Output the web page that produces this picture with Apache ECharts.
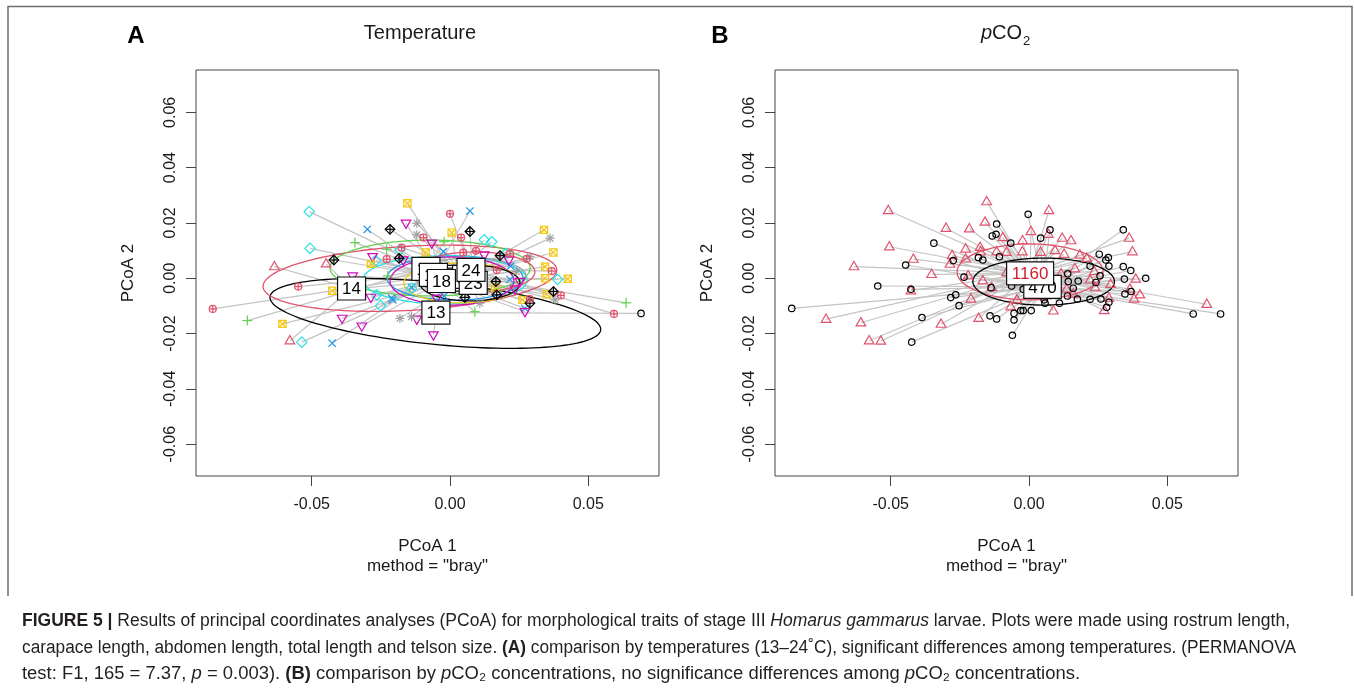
<!DOCTYPE html>
<html><head><meta charset="utf-8">
<script src="https://cdn.jsdelivr.net/npm/echarts@6/dist/echarts.min.js"></script>
<style>html,body{margin:0;padding:0;background:#fff}#c{width:1354px;height:689px}</style>
</head><body><div id="c"></div>
<script>
// ---------------- DATA ----------------
const xTicks = [-0.05, 0, 0.05];
const yTicks = [-0.06, -0.04, -0.02, 0, 0.02, 0.04, 0.06];

// Panel A: temperature groups
const tempGroups = ['13','14','15','16','17','18','19','20','23','24'];
const t13 = [[0.0691,-0.0127]];
const t14 = [[-0.0635,0.0042],[-0.0448,0.0052],[-0.0579,-0.0226]];
const t15 = [[-0.0344,0.0129],[-0.0229,0.0105],[-0.0733,-0.0153],[-0.0225,0.0008],[-0.0021,0.0132],[0.0090,-0.0121],[0.0637,-0.0089]];
const t16 = [[-0.0299,0.0177],[-0.0426,-0.0235],[-0.0207,-0.0078],[0.0072,0.0243],[-0.0024,0.0096],[0.0219,0.0044],[0.0217,-0.0004],[-0.0139,-0.0033],[-0.0021,-0.0064],[0.0271,-0.0109],[-0.0211,-0.0072]];
const t17 = [[-0.0509,0.0241],[-0.0506,0.0108],[-0.0536,-0.0231],[-0.0251,-0.0099],[-0.0265,-0.0060],[-0.0181,0.0102],[-0.0268,0.0064],[-0.0139,-0.0036],[0.0124,0.0139],[0.0151,0.0132],[0.0203,0.0090],[0.0389,-0.0004]];
const t18 = [[-0.0159,0.0199],[-0.0280,0.0078],[-0.0352,0.0008],[-0.0286,-0.0069],[-0.0390,-0.0145],[-0.0319,-0.0173],[-0.0169,0.0066],[-0.0066,0.0127],[-0.0060,-0.0205],[-0.0120,-0.0148],[0.0124,0.0084],[0.0213,0.0066],[0.0235,-0.0039],[0.0271,-0.0121],[-0.0048,-0.0072],[0.0253,-0.0012]];
const t19 = [[-0.0154,0.0271],[-0.0286,0.0052],[-0.0426,-0.0045],[-0.0606,-0.0165],[0.0006,0.0165],[0.0340,0.0175],[0.0374,0.0093],[0.0344,0.0042],[0.0344,0.0000],[0.0426,-0.0002],[0.0350,-0.0058],[0.0262,-0.0078],[-0.0088,0.0093],[0.0163,-0.0034]];
const t20 = [[-0.0120,0.0199],[-0.0181,-0.0145],[-0.0139,-0.0139],[-0.0120,0.0157],[0.0362,0.0145],[0.0289,0.0078],[0.0108,-0.0090],[0.0380,-0.0078],[0.0241,0.0024]];
const t23 = [[-0.0217,0.0177],[-0.0420,0.0066],[-0.0184,0.0072],[0.0072,0.0169],[0.0181,0.0082],[0.0166,-0.0012],[0.0169,-0.0060],[0.0054,-0.0069],[0.0374,-0.0048],[0.0289,-0.0090]];
const t24 = [[-0.0858,-0.0111],[-0.0549,-0.0030],[-0.0229,0.0069],[0.0000,0.0233],[-0.0096,0.0147],[0.0040,0.0147],[0.0048,0.0093],[0.0094,0.0099],[0.0169,0.0030],[0.0217,0.0088],[0.0277,0.0070],[0.0368,0.0026],[0.0401,-0.0062],[0.0593,-0.0129],[0.0289,-0.0075],[-0.0175,0.0111]];
// group centroids (label positions)
const tempCentX = [-0.0051,-0.0356,-0.0087,-0.0060,-0.0010,-0.0031,0.0030,0.0060,0.0084,0.0076];
const tempCentY = [-0.0124,-0.0037,0.0034,0.0012,0.0005,-0.0010,-0.0005,0.0005,-0.0017,0.0030];
// dispersion ellipses: centre, semi-axes, tilt (deg)
const tempEllCX = [-0.0053,-0.0145,-0.0072,0.0018,-0.0018,0.0007,0.0043,0.0072,0.0072,0.0090];
const tempEllCY = [-0.0127,0.0000,0.0037,0.0001,-0.0006,-0.0010,-0.0017,0.0008,-0.0017,0.0023];
const tempEllA  = [0.0601,0.0532,0.0362,0.0246,0.0297,0.0224,0.0210,0.0203,0.0181,0.0217];
const tempEllB  = [0.0112,0.0116,0.0101,0.0080,0.0087,0.0087,0.0072,0.0065,0.0065,0.0072];
const tempEllAng= [-5.7,3.3,0,0,0,0,0,0,0,0];
const tempLabelOrder = [4,6,7,2,3,5,8,9,0,1];

// Panel B: pCO2 groups
const co2Groups = ['1160','470'];
const c1160 = [[-0.0509,0.0245],[-0.0153,0.0277],[-0.0300,0.0181],[-0.0216,0.0179],[-0.0159,0.0203],[-0.0505,0.0114],[-0.0418,0.0069],[-0.0633,0.0042],[-0.0352,0.0014],[-0.0278,0.0082],[-0.0286,0.0051],[-0.0229,0.0106],[-0.0229,0.0070],[-0.0177,0.0112],[-0.0175,0.0096],[-0.0220,0.0009],[-0.0167,-0.0009],[-0.0135,-0.0034],[-0.0427,-0.0045],[-0.0210,-0.0075],[-0.0734,-0.0148],[-0.0608,-0.0161],[-0.0578,-0.0226],[-0.0536,-0.0227],[-0.0318,-0.0166],[-0.0182,-0.0145],
  [0.0072,0.0245],[0.0007,0.0169],[0.0070,0.0159],[0.0120,0.0145],[0.0152,0.0136],[-0.0095,0.0147],[-0.0023,0.0136],[-0.0117,0.0096],[-0.0081,0.0094],[-0.0024,0.0096],[0.0042,0.0094],[0.0094,0.0100],[0.0127,0.0087],[0.0184,0.0084],[0.0209,0.0072],[0.0362,0.0145],[0.0374,0.0096],[0.0166,0.0034],[0.0236,0.0024],[0.0221,-0.0006],[0.0136,-0.0039],[0.0160,-0.0057],[0.0239,-0.0034],[0.0295,-0.0022],[0.0386,-0.0003],[0.0365,-0.0039],[0.0401,-0.0060],[0.0380,-0.0075],[0.0289,-0.0072],[0.0643,-0.0094],[0.0088,-0.0118],[0.0272,-0.0117],[-0.0066,-0.0103],[-0.0044,-0.0078],[-0.0081,0.0020],[0.0116,0.0016]];
const c470 = [[-0.0117,0.0196],[-0.0133,0.0153],[-0.0119,0.0159],[-0.0344,0.0127],[-0.0446,0.0048],[-0.0274,0.0064],[-0.0183,0.0075],[-0.0167,0.0066],[-0.0107,0.0078],[-0.0235,0.0004],[-0.0547,-0.0028],[-0.0427,-0.0040],[-0.0283,-0.0070],[-0.0265,-0.0060],[-0.0253,-0.0099],[-0.0858,-0.0109],[-0.0387,-0.0142],[-0.0424,-0.0231],[-0.0141,-0.0136],[-0.0117,-0.0147],[-0.0137,-0.0034],
  [-0.0003,0.0231],[-0.0066,0.0127],[0.0042,0.0145],[0.0076,0.0175],[0.0341,0.0175],[0.0254,0.0087],[0.0278,0.0066],[0.0287,0.0075],[0.0221,0.0044],[0.0289,0.0044],[0.0341,0.0042],[0.0368,0.0028],[0.0140,0.0016],[0.0178,-0.0010],[0.0142,-0.0012],[0.0257,0.0009],[0.0242,-0.0015],[0.0345,-0.0003],[0.0422,0.0000],[0.0160,-0.0036],[0.0139,-0.0064],[0.0175,-0.0075],[0.0221,-0.0076],[0.0260,-0.0075],[0.0289,-0.0087],[0.0281,-0.0105],[0.0347,-0.0057],[0.0369,-0.0048],[0.0110,-0.0090],[0.0058,-0.0090],[0.0055,-0.0078],[-0.0030,-0.0117],[-0.0021,-0.0117],[0.0008,-0.0117],[-0.0054,-0.0127],[-0.0054,-0.0151],[-0.0060,-0.0206],[0.0594,-0.0129],[0.0693,-0.0129],[-0.0063,-0.0028],[-0.0021,-0.0040]];
const co2CentX = [0.0004, 0.0049];
const co2CentY = [0.0018, -0.0031];
const co2EllCX = [0.0004, 0.0053];
const co2EllCY = [0.0023, -0.0012];
const co2EllA  = [0.0264, 0.0256];
const co2EllB  = [0.0101, 0.0085];
const co2EllAng= [0, 0];
const co2LabelOrder = [1, 0];

// ---------------- STYLE ----------------
const FONT = "'Liberation Sans', Arial, Helvetica, sans-serif";
const X_MIN = -0.09186, X_MAX = 0.07559, Y_MIN = -0.0715, Y_MAX = 0.0753;
const tempMarks = ['circle','triUp','plus','cross','diamond','triDown','sqX','star','diaPlus','circPlus'];
const tempCols = ['#000000','#DF536B','#61D04F','#2297E6','#28E2E5','#CD0BBC','#F5C710','#9E9E9E','#000000','#DF536B'];
const co2Marks = ['triUp','circle'];
const co2Cols = ['#DF536B','#000000'];
const co2TextCols = ['#CC1F2F','#000000'];
const SPIDER = '#C4C4C4';

function marker(type, x, y, color) {
  const st = {stroke: color, fill: 'none', lineWidth: 1.2};
  const L = (x1,y1,x2,y2) => ({type:'line', shape:{x1,y1,x2,y2}, style: st});
  const P = pts => ({type:'polygon', shape:{points:pts}, style: st});
  switch (type) {
    case 'circle': return [{type:'circle', shape:{cx:x, cy:y, r:3.2}, style: st}];
    case 'triUp': return [P([[x,y-5.2],[x+4.8,y+3.1],[x-4.8,y+3.1]])];
    case 'triDown': return [P([[x,y+5.2],[x+4.8,y-3.1],[x-4.8,y-3.1]])];
    case 'plus': return [L(x-5,y,x+5,y), L(x,y-5,x,y+5)];
    case 'cross': return [L(x-3.7,y-3.7,x+3.7,y+3.7), L(x-3.7,y+3.7,x+3.7,y-3.7)];
    case 'diamond': return [P([[x,y-5.2],[x+5.2,y],[x,y+5.2],[x-5.2,y]])];
    case 'sqX': return [{type:'rect', shape:{x:x-3.6,y:y-3.6,width:7.2,height:7.2}, style: st}, L(x-3.6,y-3.6,x+3.6,y+3.6), L(x-3.6,y+3.6,x+3.6,y-3.6)];
    case 'star': return [L(x-4.6,y,x+4.6,y), L(x,y-4.6,x,y+4.6), L(x-3.3,y-3.3,x+3.3,y+3.3), L(x-3.3,y+3.3,x+3.3,y-3.3)];
    case 'diaPlus': return [P([[x,y-4.8],[x+4.8,y],[x,y+4.8],[x-4.8,y]]), L(x-4.8,y,x+4.8,y), L(x,y-4.8,x,y+4.8)];
    case 'circPlus': return [{type:'circle', shape:{cx:x, cy:y, r:3.5}, style: st}, L(x-3.5,y,x+3.5,y), L(x,y-3.5,x,y+3.5)];
  }
  return [];
}

const fmt = v => (Math.abs(v) < 1e-9 ? 0 : v).toFixed(2);
function xAx(gi) {
  return {type:'value', gridIndex:gi, min:X_MIN, max:X_MAX, position:'bottom', splitLine:{show:false},
    axisLine:{show:false, onZero:false},
    axisTick:{show:true, inside:false, length:10, customValues:xTicks, lineStyle:{color:'#444', width:1}},
    axisLabel:{show:true, customValues:xTicks, formatter:fmt, margin:21, color:'#1a1a1a', fontSize:16, fontFamily:FONT}};
}
function yAx(gi) {
  return {type:'value', gridIndex:gi, min:Y_MIN, max:Y_MAX, position:'left', splitLine:{show:false},
    axisLine:{show:false, onZero:false},
    axisTick:{show:true, inside:false, length:10, customValues:yTicks, lineStyle:{color:'#444', width:1}},
    axisLabel:{show:true, customValues:yTicks, formatter:fmt, rotate:90, margin:17, color:'#1a1a1a', fontSize:16, fontFamily:FONT}};
}

function buildPanel(gi, sets, centX, centY, ellCX, ellCY, ellA, ellB, ellAng, marks, cols, names, labelOrder, textCols) {
  const out = [];
  const spider = [];
  sets.forEach((pts, g) => pts.forEach(p => spider.push([p[0], p[1], centX[g], centY[g]])));
  out.push({type:'custom', xAxisIndex:gi, yAxisIndex:gi, silent:true, z:1, data:spider,
    encode:{x:[0,2], y:[1,3]},
    renderItem:(params, api) => {
      const a = api.coord([api.value(0), api.value(1)]);
      const b = api.coord([api.value(2), api.value(3)]);
      return {type:'line', shape:{x1:a[0], y1:a[1], x2:b[0], y2:b[1]}, style:{stroke:SPIDER, lineWidth:1.2}};
    }});
  const ell = ellCX.map((cx, g) => [cx, ellCY[g], ellA[g], ellB[g], ellAng[g], g]);
  out.push({type:'custom', xAxisIndex:gi, yAxisIndex:gi, silent:true, z:2, data:ell,
    encode:{x:0, y:1},
    renderItem:(params, api) => {
      const c = api.coord([api.value(0), api.value(1)]);
      const sz = api.size([api.value(2), api.value(3)]);
      const th = api.value(4) * Math.PI / 180;
      const pts = [];
      for (let k = 0; k <= 144; k++) {
        const t = k / 144 * 2 * Math.PI;
        const ex = sz[0] * Math.cos(t), ey = sz[1] * Math.sin(t);
        pts.push([c[0] + ex * Math.cos(th) - ey * Math.sin(th), c[1] - (ex * Math.sin(th) + ey * Math.cos(th))]);
      }
      return {type:'polyline', shape:{points:pts}, style:{stroke:cols[api.value(5)], fill:'none', lineWidth:1.3}};
    }});
  sets.forEach((pts, g) => {
    out.push({type:'custom', xAxisIndex:gi, yAxisIndex:gi, silent:true, z:3, data:pts,
      encode:{x:0, y:1},
      renderItem:(params, api) => {
        const p = api.coord([api.value(0), api.value(1)]);
        return {type:'group', children: marker(marks[g], p[0], p[1], cols[g])};
      }});
  });
  const lab = labelOrder.map(g => [centX[g], centY[g], g]);
  out.push({type:'custom', xAxisIndex:gi, yAxisIndex:gi, silent:true, z:4, data:lab,
    encode:{x:0, y:1},
    renderItem:(params, api) => {
      const c = api.coord([api.value(0), api.value(1)]);
      const g = api.value(2);
      const txt = names[g];
      const w = txt.length * 9.5 + 9, h = 23;
      return {type:'group', children:[
        {type:'rect', shape:{x:c[0]-w/2, y:c[1]-h/2, width:w, height:h}, style:{fill:'#fff', stroke:'#111', lineWidth:1.2}},
        {type:'text', x:c[0], y:c[1]+1, style:{text:txt, fill:textCols ? textCols[g] : '#000', fontSize:17, fontFamily:FONT, align:'center', verticalAlign:'middle'}}
      ]};
    }});
  return out;
}

const series = [].concat(
  buildPanel(0, [t13,t14,t15,t16,t17,t18,t19,t20,t23,t24], tempCentX, tempCentY, tempEllCX, tempEllCY, tempEllA, tempEllB, tempEllAng, tempMarks, tempCols, tempGroups, tempLabelOrder, null),
  buildPanel(1, [c1160, c470], co2CentX, co2CentY, co2EllCX, co2EllCY, co2EllA, co2EllB, co2EllAng, co2Marks, co2Cols, co2Groups, co2LabelOrder, co2TextCols)
);

// caption: each line condensed to the width it takes in the figure
const mctx = document.createElement('canvas').getContext('2d');
const CAP = 18;
function richWidth(markup) {
  let w = 0;
  const re = /\{(\w+)\|([^}]*)\}|([^{]+)/g;
  let m;
  while ((m = re.exec(markup)) !== null) {
    let font = `${CAP}px ${FONT}`, s = m[3];
    if (m[1]) { s = m[2]; font = (m[1] === 'b' ? 'bold ' : 'italic ') + font; }
    mctx.font = font;
    w += mctx.measureText(s).width;
  }
  return w;
}
const capRich = {b:{fontWeight:'bold', fontSize:CAP, fontFamily:FONT, fill:'#231f20'}, i:{fontStyle:'italic', fontSize:CAP, fontFamily:FONT, fill:'#231f20'}};
function capLine(text, y, targetW) {
  const sc = targetW / richWidth(text);
  return {type:'text', x:22, y:y, scaleX:sc, scaleY:1, style:{text:text, fontSize:CAP, fontFamily:FONT, fill:'#231f20', verticalAlign:'middle', align:'left', rich:capRich}};
}
function txt(t, x, y, size, extra) {
  return {type:'text', x:x, y:y, style:Object.assign({text:t, fontSize:size, fontFamily:FONT, fill:'#1a1a1a', align:'center', verticalAlign:'middle'}, extra || {})};
}

const graphic = [
  {type:'polyline', shape:{points:[[8,596],[8,6.5],[1352,6.5],[1352,596]]}, style:{stroke:'#6f6f6f', lineWidth:1.5, fill:'none'}},
  txt('A', 136, 36, 24, {fontWeight:'bold', fill:'#000'}),
  txt('Temperature', 420, 33, 20),
  txt('B', 720, 36, 24, {fontWeight:'bold', fill:'#000'}),
  {type:'text', x:1022, y:33, style:{text:'{i|p}CO', fontSize:20, fontFamily:FONT, fill:'#1a1a1a', align:'right', verticalAlign:'middle', rich:{i:{fontStyle:'italic', fontSize:20, fontFamily:FONT, fill:'#1a1a1a'}}}},
  {type:'text', x:1023, y:41, style:{text:'2', fontSize:13, fontFamily:FONT, fill:'#1a1a1a', align:'left', verticalAlign:'middle'}},
  Object.assign(txt('PCoA 2', 128, 273, 17), {rotation:Math.PI/2}),
  Object.assign(txt('PCoA 2', 707, 273, 17), {rotation:Math.PI/2}),
  txt('PCoA 1', 427.5, 546, 17),
  txt('method = "bray"', 427.5, 566, 17),
  txt('PCoA 1', 1006.5, 546, 17),
  txt('method = "bray"', 1006.5, 566, 17),
  capLine('{b|FIGURE 5 |} Results of principal coordinates analyses (PCoA) for morphological traits of stage III {i|Homarus gammarus} larvae. Plots were made using rostrum length,', 621, 1268),
  capLine('carapace length, abdomen length, total length and telson size. {b|(A)} comparison by temperatures (13\u201324\u02DAC), significant differences among temperatures. (PERMANOVA', 648, 1274),
  capLine('test: F1, 165 = 7.37, {i|p} = 0.003). {b|(B)} comparison by {i|p}CO\u2082 concentrations, no significance differences among {i|p}CO\u2082 concentrations.', 674, 1058)
];

const chart = echarts.init(document.getElementById('c'), null, {renderer:'canvas'});
chart.setOption({
  animation:false,
  backgroundColor:'#fff',
  grid:[
    {left:196, top:70, width:463, height:406, show:true, borderColor:'#444', borderWidth:1, containLabel:false, outerBoundsMode:'none'},
    {left:775, top:70, width:463, height:406, show:true, borderColor:'#444', borderWidth:1, containLabel:false, outerBoundsMode:'none'}
  ],
  xAxis:[xAx(0), xAx(1)],
  yAxis:[yAx(0), yAx(1)],
  series:series,
  graphic:graphic
});
</script></body></html>
